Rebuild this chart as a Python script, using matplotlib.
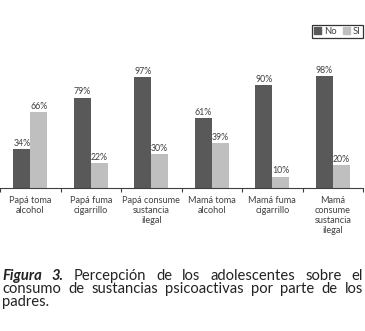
import matplotlib
matplotlib.use("Agg")
import matplotlib.pyplot as plt
import numpy as np
from matplotlib.patches import Patch

# data
categories = ["Papá toma\nalcohol", "Papá fuma\ncigarrillo", "Papá consume\nsustancia\nilegal",
              "Mamá toma\nalcohol", "Mamá fuma\ncigarrillo", "Mamá\nconsume\nsustancia\nilegal"]
no_vals = [34, 79, 97, 61, 90, 98]
si_vals = [66, 22, 30, 39, 10, 20]

caption_lines = [
    [("Figura 3.", True), ("Percepción de los adolescentes sobre el", False)],
    [("consumo de sustancias psicoactivas por parte de los", False)],
    [("padres.", False)],
]

plt.rcParams['font.family'] = ['Lato', 'DejaVu Sans']

W, H = 365, 331
fig = plt.figure(figsize=(W / 100, H / 100), dpi=100)
ax = fig.add_axes([0 / W, (H - 188) / H, 363 / W, 114.4 / H])

x = np.arange(len(categories))
bw = 0.28
dark = "#595959"
light = "#bfbfbf"
b1 = ax.bar(x - bw / 2, no_vals, bw, color=dark)
b2 = ax.bar(x + bw / 2, si_vals, bw, color=light)

for bars, vals in [(b1, no_vals), (b2, si_vals)]:
    for b, v in zip(bars, vals):
        ax.text(b.get_x() + b.get_width() / 2, v + 1, f"{v}%", ha="center", va="bottom",
                fontsize=6.3, color="#404040", clip_on=False)

ax.set_xlim(-0.5, len(categories) - 0.5)
ax.set_ylim(0, 100)
ax.set_yticks([])
for s in ["top", "right", "left"]:
    ax.spines[s].set_visible(False)
ax.spines["bottom"].set_color("#404040")
ax.spines["bottom"].set_linewidth(0.8)

# ticks at category boundaries, labels at centers
ax.set_xticks(np.arange(len(categories) + 1) - 0.5)
ax.set_xticklabels([])
ax.tick_params(axis="x", direction="out", length=3, width=0.8, color="#404040")
for i, c in enumerate(categories):
    ax.text(i, -7, c, ha="center", va="top", fontsize=6.6, color="#404040",
            linespacing=1.15, clip_on=False)

leg = fig.legend(handles=[Patch(color=dark, label="No"), Patch(color=light, label="SI")],
                 loc="upper left", bbox_to_anchor=(312 / W, 1 - 25 / H), ncol=2,
                 fontsize=6.8, frameon=True, fancybox=False, handlelength=0.8, handleheight=0.8,
                 handletextpad=0.3, columnspacing=0.6, borderpad=0.2, borderaxespad=0)
leg.get_frame().set_edgecolor("black")
leg.get_frame().set_linewidth(0.9)
for t in leg.get_texts():
    t.set_color("#404040")

# caption, justified on the first two lines
fig.canvas.draw()
r = fig.canvas.get_renderer()
x0, x1 = 2, 363
ys = [276, 289, 302]
fs = 10.6
ccol = "#222222"
for li, (segs, y) in enumerate(zip(caption_lines, ys)):
    words = []
    for txt, bold in segs:
        for w in txt.split(" "):
            words.append((w, bold))
    if li == len(caption_lines) - 1:
        fig.text(x0 / W, 1 - y / H, " ".join(w for w, _ in words), fontsize=fs,
                 color=ccol, va="center", ha="left")
        continue
    arts = []
    widths = []
    for w, bold in words:
        t = fig.text(0, 1 - y / H, w, fontsize=fs, color=ccol, va="center", ha="left",
                     fontweight="bold" if bold else "normal",
                     fontstyle="italic" if bold else "normal")
        arts.append(t)
        widths.append(t.get_window_extent(r).width)
    gap = (x1 - x0 - sum(widths)) / (len(words) - 1)
    pos = x0
    for t, wd in zip(arts, widths):
        t.set_x(pos / W)
        pos += wd + gap

fig.savefig("out.png", dpi=100)
